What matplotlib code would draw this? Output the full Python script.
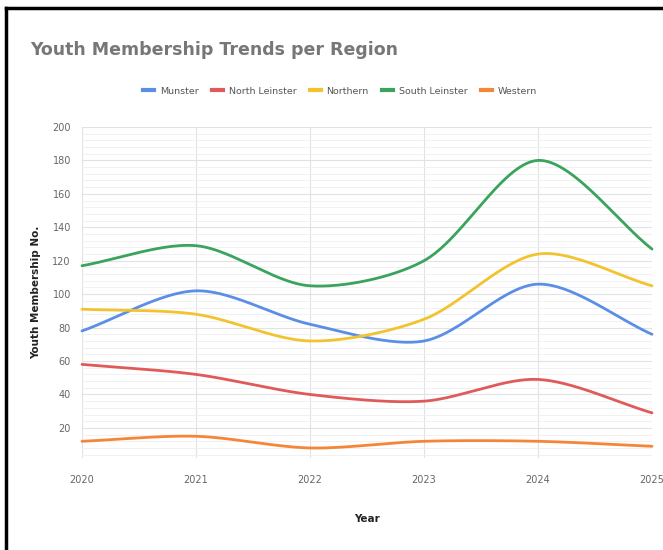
import numpy as np
import matplotlib
matplotlib.use("Agg")
import matplotlib.pyplot as plt
from matplotlib.lines import Line2D
from matplotlib.ticker import MultipleLocator

years = [2020, 2021, 2022, 2023, 2024, 2025]
regions = ["Munster", "North Leinster", "Northern", "South Leinster", "Western"]
munster = [78, 102, 82, 72, 106, 76]
north_leinster = [58, 52, 40, 36, 49, 29]
northern = [91, 88, 72, 85, 124, 105]
south_leinster = [117, 129, 105, 120, 180, 127]
western = [12, 15, 8, 12, 12, 9]
series = [munster, north_leinster, northern, south_leinster, western]
colors = ["#5b8ee6", "#e05a5a", "#f3c32f", "#3aa35c", "#f58638"]

fig = plt.figure(figsize=(6.63, 5.5), dpi=100)
ax = fig.add_axes([82 / 663, 1 - 458 / 550, (652 - 82) / 663, (458 - 127) / 550])
ax.set_xlim(2020, 2025)
ax.set_ylim(2, 200)


def spline(x, y, tension=0.3, n=50):
    # cardinal-style spline, computed in display space
    pts = ax.transData.transform(np.column_stack([x, y]))
    k = len(pts)
    cps = []
    for i in range(k):
        cur = pts[i]
        prev = pts[i - 1] if i > 0 else cur
        nxt = pts[i + 1] if i < k - 1 else cur
        d01 = np.hypot(*(cur - prev))
        d12 = np.hypot(*(nxt - cur))
        tot = d01 + d12
        s01 = d01 / tot if tot else 0
        s12 = d12 / tot if tot else 0
        cps.append((cur - tension * s01 * (nxt - prev), cur + tension * s12 * (nxt - prev)))
    out = []
    t = np.linspace(0, 1, n)[:, None]
    for i in range(k - 1):
        p0 = pts[i]
        p1 = cps[i][1]
        p2 = cps[i + 1][0]
        p3 = pts[i + 1]
        seg = (1 - t) ** 3 * p0 + 3 * (1 - t) ** 2 * t * p1 + 3 * (1 - t) * t ** 2 * p2 + t ** 3 * p3
        out.append(seg)
    out = np.vstack(out)
    data = ax.transData.inverted().transform(out)
    return data[:, 0], data[:, 1]


for vals, c in zip(series, colors):
    xs, ys = spline(years, vals)
    ax.plot(xs, ys, color=c, lw=2, solid_capstyle="round", clip_on=False)

ax.set_xticks(years)
ax.set_xticklabels([str(y) for y in years])
ax.set_yticks(range(20, 201, 20))
ax.yaxis.set_minor_locator(MultipleLocator(4))
ax.grid(True, which="major", color="#e2e2e2", lw=0.8)
ax.grid(True, which="minor", axis="y", color="#efefef", lw=0.6)
ax.set_axisbelow(True)
for s in ax.spines.values():
    s.set_visible(False)
ax.tick_params(which="both", length=0, labelsize=7, colors="#666666", pad=12)
ax.tick_params(axis="y", pad=8)

ax.set_xlabel("Year", fontsize=7.5, fontweight="bold", color="#222222", labelpad=21)
ax.set_ylabel("Youth Membership No.", fontsize=7.5, fontweight="bold", color="#222222", labelpad=8)

fig.text(30 / 663, 1 - 50 / 550, "Youth Membership Trends per Region", fontsize=12.5,
         fontweight="bold", color="#777777", va="center", ha="left")

handles = [Line2D([0], [0], color=c, lw=3) for c in colors]
fig.legend(handles, regions, loc="center", bbox_to_anchor=(340 / 663, 1 - 91 / 550), ncol=5,
           frameon=False, fontsize=6.8, handlelength=1.2, handletextpad=0.6, columnspacing=1.4,
           labelcolor="#555555")

fig.add_artist(Line2D([6 / 663, 6 / 663], [0, 1 - 8 / 550], color="black", lw=2.5))
fig.add_artist(Line2D([6 / 663, 1], [1 - 8 / 550, 1 - 8 / 550], color="black", lw=2.5))

fig.savefig("out.png", dpi=100)
